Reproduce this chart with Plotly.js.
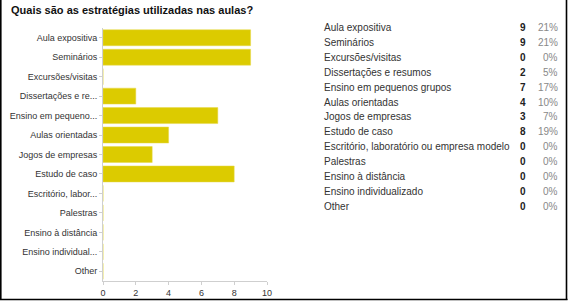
<!DOCTYPE html>
<html>
<head>
<meta charset="utf-8">
<script src="https://cdn.plot.ly/plotly-3.0.1.min.js"></script>
<style>html,body{margin:0;padding:0;background:#fff;}#chart{width:568px;height:301px;}</style>
</head>
<body>
<div id="chart"></div>
<script>
// ---- data ----
const categories = ["Aula expositiva","Seminários","Excursões/visitas","Dissertações e resumos","Ensino em pequenos grupos","Aulas orientadas","Jogos de empresas","Estudo de caso","Escritório, laboratório ou empresa modelo","Palestras","Ensino à distância","Ensino individualizado","Other"];
const axisLabels = ["Aula expositiva","Seminários","Excursões/visitas","Dissertações e re...","Ensino em pequeno...","Aulas orientadas","Jogos de empresas","Estudo de caso","Escritório, labor...","Palestras","Ensino à distância","Ensino individual...","Other"];
const counts = [9,9,0,2,7,4,3,8,0,0,0,0,0];
const percents = ["21%","21%","0%","5%","17%","10%","7%","19%","0%","0%","0%","0%","0%"];
const xTicks = [0,2,4,6,8,10];
const titleText = "Quais são as estratégias utilizadas nas aulas?";

// ---- layout geometry (pixels) ----
const W = 568, H = 301;
const L = 103, R = 267, T = 28, B = 281;
const px = x => (x - L) / (R - L);
const py = y => (B - y) / (B - T);
const font = "Arial, 'Liberation Sans', sans-serif";

const annotations = [];
const rowTop = 27.3, rowPitch = 14.95;
categories.forEach((c, i) => {
  const y = py(rowTop + i * rowPitch);
  annotations.push({xref:'paper', yref:'paper', x:px(322), y:y, xanchor:'left', yanchor:'middle', text:c, showarrow:false, font:{family:font, size:10, color:'#333'}});
  annotations.push({xref:'paper', yref:'paper', x:px(528), y:y, xanchor:'right', yanchor:'middle', text:'<b>'+counts[i]+'</b>', showarrow:false, font:{family:font, size:10, color:'#222'}});
  annotations.push({xref:'paper', yref:'paper', x:px(560), y:y, xanchor:'right', yanchor:'middle', text:percents[i], showarrow:false, font:{family:font, size:10, color:'#888'}});
});

const border = {color:'#000', width:1.6};
const shapes = [
  {type:'line', xref:'paper', yref:'paper', x0:px(0.8), x1:px(0.8), y0:py(0), y1:py(300), line:border},
  {type:'line', xref:'paper', yref:'paper', x0:px(566.5), x1:px(566.5), y0:py(0), y1:py(300), line:border},
  {type:'line', xref:'paper', yref:'paper', x0:px(0), x1:px(567.5), y0:py(299.5), y1:py(299.5), line:border}
];

const trace = {
  type:'bar', orientation:'h',
  x: counts, y: categories,
  marker:{color:'#dccb00', line:{color:'#e6d84a', width:0.5}},
  hoverinfo:'none'
};

const layout = {
  width:W, height:H,
  margin:{l:L, r:W-R, t:T, b:H-B, pad:0},
  paper_bgcolor:'#fff', plot_bgcolor:'#fff',
  showlegend:false,
  bargap:0.18,
  title:{text:'<b>'+titleText+'</b>', x:11/W, xanchor:'left', xref:'container', y:1-10/H, yanchor:'middle', yref:'container', font:{family:font, size:11, color:'#111'}},
  xaxis:{range:[0,10], tickvals:xTicks, ticktext:xTicks.map(String), showgrid:false, zeroline:false,
         showline:true, linecolor:'#cfcfcf', linewidth:1, ticks:'outside', ticklen:3, tickcolor:'#cfcfcf',
         tickfont:{family:font, size:9, color:'#333'}, fixedrange:true},
  yaxis:{type:'category', categoryorder:'array', categoryarray:categories, autorange:'reversed',
         tickvals:categories, ticktext:axisLabels, showgrid:false, zeroline:false,
         showline:true, linecolor:'#cfcfcf', linewidth:1, ticks:'outside', ticklen:3, tickcolor:'#cfcfcf',
         tickfont:{family:font, size:9, color:'#333'}, fixedrange:true},
  annotations: annotations,
  shapes: shapes
};

Plotly.newPlot('chart', [trace], layout, {displayModeBar:false, staticPlot:true});
</script>
</body>
</html>
